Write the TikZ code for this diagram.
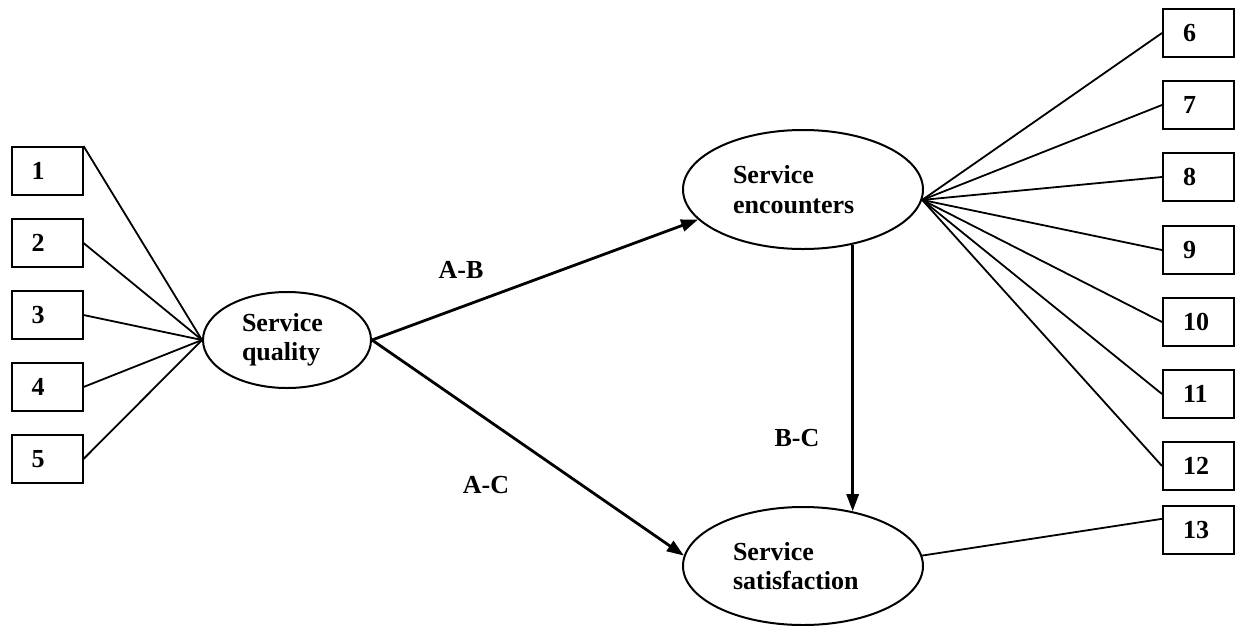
\documentclass[tikz,border=0pt]{standalone}
\usepackage{fontspec}
\setmainfont{Liberation Serif}
\usetikzlibrary{arrows.meta,shapes.geometric}
\begin{document}
\begin{tikzpicture}[x=1pt,y=-1pt,
  every node/.style={font=\bfseries\fontsize{26}{29.5}\selectfont},
  numbox/.style={draw, line width=2pt, rectangle, inner xsep=20pt, inner ysep=0pt,
                 text width=31pt, align=left, minimum height=48pt},
  construct/.style={draw, ellipse, line width=2pt, inner sep=0pt, align=left},
  link/.style={line width=1.8pt},
  arrowline/.style={line width=2.8pt, -{Triangle[length=17pt,width=12pt]}},
  lbl/.style={inner sep=0pt}
]
\useasboundingbox (0,0) rectangle (1235,625);

% constructs
\node[construct, minimum width=168pt, minimum height=96pt, text width=90pt] (qual) at (287,340) {Service\\quality};
\node[construct, minimum width=240pt, minimum height=119pt, text width=140pt] (enc) at (803,189.5) {Service\\encounters};
\node[construct, minimum width=240pt, minimum height=118pt, text width=140pt] (sat) at (803,566) {Service\\satisfaction};

% left indicator boxes
\node[numbox] (b1) at (47,171) {1};
\node[numbox] (b2) at (47,243) {2};
\node[numbox] (b3) at (47,315) {3};
\node[numbox] (b4) at (47,387) {4};
\node[numbox] (b5) at (47,459) {5};

% right indicator boxes
\node[numbox] (b6)  at (1198.5,33)  {6};
\node[numbox] (b7)  at (1198.5,105) {7};
\node[numbox] (b8)  at (1198.5,177) {8};
\node[numbox] (b9)  at (1198.5,250) {9};
\node[numbox] (b10) at (1198.5,322) {10};
\node[numbox] (b11) at (1198.5,394) {11};
\node[numbox] (b12) at (1198.5,466) {12};
\node[numbox] (b13) at (1198.5,530) {13};

% left links
\draw[link] (b1.north east) -- (qual.west);
\foreach \i in {2,3,4,5}{\draw[link] (b\i.east) -- (qual.west);}

% right links
\foreach \i in {6,7,8,9,10,11,12}{\draw[link] (enc.-5) -- (b\i.west);}
\draw[link] (sat.5) -- (b13.163);

% structural paths
\draw[arrowline] (qual.east) -- (enc.196);
\draw[arrowline] (qual.east) -- (sat.175);
\draw[arrowline] (enc.-48.6) -- (enc.-48.6 |- sat.48.4);

% path labels
\node[lbl] (lab) at (461,270) {A-B};
\node[lbl] (lac) at (486,485) {A-C};
\node[lbl] (lbc) at (797,438) {B-C};
\end{tikzpicture}
\end{document}
